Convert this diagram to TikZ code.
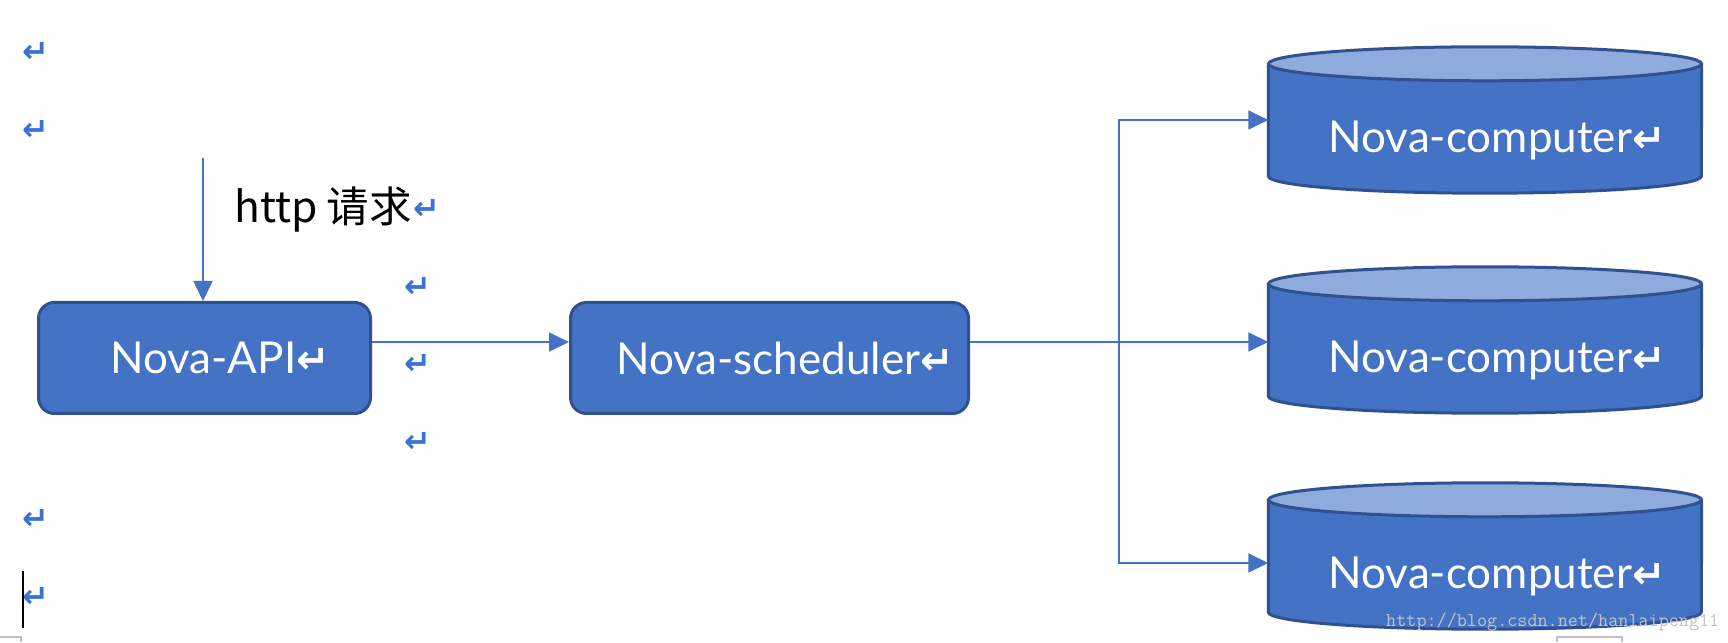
\documentclass[tikz,border=0pt]{standalone}
\usepackage{fontspec}
\newfontfamily\latofont{Lato}
\newfontfamily\cjkfont{Noto Sans CJK SC}
\newfontfamily\symfont{DejaVu Sans}
\usetikzlibrary{arrows.meta,positioning,calc,backgrounds}

\definecolor{boxfill}{HTML}{4472C4}
\definecolor{boxline}{HTML}{2F528F}
\definecolor{capfill}{HTML}{8FAADC}
\definecolor{linkcol}{HTML}{4472C4}
\definecolor{markcol}{HTML}{3A72D6}
\definecolor{wmarkcol}{HTML}{C4C4C4}

\newcommand{\boxmark}{{\symfont\bfseries\fontsize{40}{40}\selectfont ↵}}

\begin{document}
\begin{tikzpicture}[
    x=1pt, y=1pt,
    >={Triangle[length=20pt, width=19pt]},
    block/.style = {rectangle, rounded corners=16pt, draw=boxline, line width=3pt, fill=boxfill, text=white, minimum height=111pt, font=\latofont\fontsize{44}{44}\selectfont, execute at begin node=\hspace*{31pt}},
    dbnode/.style = {rectangle, inner sep=0pt, minimum width=433pt, minimum height=146pt},
    dbline/.style = {draw=boxline, line width=3pt},
    dbtext/.style = {text=white, font=\latofont\fontsize{44}{44}\selectfont, xshift=12pt, yshift=-21pt},
    retmark/.style = {text=markcol, inner sep=0pt, font=\symfont\bfseries\fontsize{32}{32}\selectfont},
    link/.style = {draw=linkcol, line width=1.6pt}
]
    \useasboundingbox (0,0) rectangle (1728,642);
    % empty paragraphs on the left
    \node[retmark] (mark1) at (36,590) {↵};
    \node[retmark] (mark2) at (36,512) {↵};
    \node[retmark] (mark3) at (36,123) {↵};
    \node[retmark] (mark4) at (36,45) {↵};
    % request coming in
    \coordinate (req) at (203,484);
    \node[anchor=base west, inner sep=0pt, font=\cjkfont\fontsize{42.5}{42.5}\selectfont] (httplabel) at (234,419) {http 请求};
    \node[retmark] (mark5) at (427,433) {↵};
    \node[retmark] (mark6) at (418,355) {↵};
    \node[retmark] (mark7) at (418,278) {↵};
    \node[retmark] (mark8) at (418,200) {↵};
    % boxes
    \node[block, minimum width=332pt] (api) at (204.5,284) {Nova-API\boxmark};
    \node[block, minimum width=398pt] (sched) at (769.5,284) {Nova-scheduler\boxmark};
    % compute nodes
    \node[dbnode, label={[dbtext]center:Nova-computer\boxmark}] (comp1) at (1485,522) {};
    \node[dbnode, label={[dbtext]center:Nova-computer\boxmark}] (comp2) at (1485,302) {};
    \node[dbnode, label={[dbtext]center:Nova-computer\boxmark}] (comp3) at (1485,86) {};
    \begin{scope}[on background layer]
        \fill[white] (0,0) rectangle (1728,642);
        \foreach \c in {comp1,comp2,comp3} {
            \draw[dbline, fill=boxfill] ([yshift=-17pt]\c.north west) -- ([yshift=17pt]\c.south west)
                arc[start angle=180, end angle=360, x radius=216.5pt, y radius=17pt] -- ([yshift=-17pt]\c.north east);
            \draw[dbline, fill=capfill] ([yshift=-17pt]\c.north) ellipse[x radius=216.5pt, y radius=17pt];
        }
    \end{scope}
    \coordinate (split) at (1119,300);
    % Arrows
    \draw[link, ->] (req) -- (req |- api.north);
    \draw[link, ->] ([yshift=16pt]api.east) -- ([yshift=16pt]sched.west);
    \draw[link, ->] (sched.east |- split) -- (split -| comp2.west);
    \draw[link, ->] (split) |- (comp1.west);
    \draw[link, ->] (split) |- ([yshift=-7pt]comp3.west);
    % watermark, cursor and page marks
    \node[anchor=base west, inner sep=0pt, text=wmarkcol, font=\ttfamily\fontsize{19.6}{19.6}\selectfont] (wmark) at (1386,15) {http://blog.csdn.net/hanlaipeng11};
    \draw[line width=2pt] (23,14) -- (23,71);
    \draw[gray!50, line width=1.5pt] (0,5) -- (21,5) -- (21,0);
    \draw[gray!50, line width=1.5pt] (1557,0) -- (1557,5) -- (1622,5) -- (1622,0);
\end{tikzpicture}
\end{document}
